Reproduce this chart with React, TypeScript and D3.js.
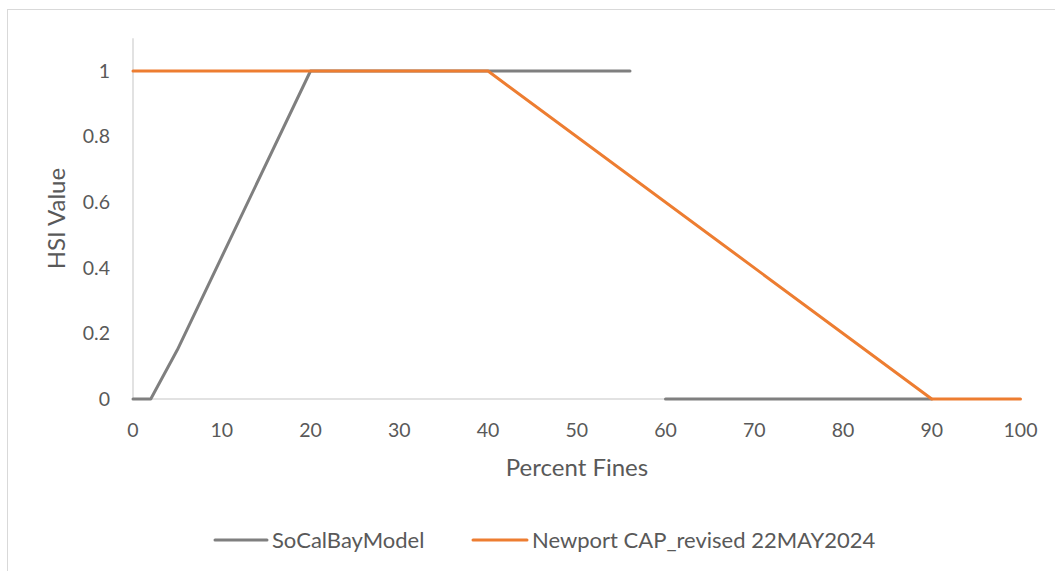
import React from "react";
import * as d3 from "d3";

const socalX = [0, 2, 5, 20, 56];
const socalY = [0, 0, 0.15, 1, 1];
const socalX2 = [60, 90];
const socalY2 = [0, 0];
const newportX = [0, 40, 90, 100];
const newportY = [1, 1, 0, 0];
const xTicks = [0, 10, 20, 30, 40, 50, 60, 70, 80, 90, 100];
const yTicks = [0, 0.2, 0.4, 0.6, 0.8, 1];
const seriesNames = ["SoCalBayModel", "Newport CAP_revised 22MAY2024"];
const seriesColors = ["#7f7f7f", "#ed7d31"];

const FONT = "Lato, 'Open Sans', sans-serif";
const TXT = "#595959";

export default function App() {
  const x = d3.scaleLinear().domain([0, 100]).range([133, 1020.5]);
  const y = d3.scaleLinear().domain([0, 1.1]).range([399, 38.2]);
  const line = d3
    .line<[number, number]>()
    .x((d) => x(d[0]))
    .y((d) => y(d[1]));
  const s1 = socalX.map((v, i) => [v, socalY[i]] as [number, number]);
  const s2 = socalX2.map((v, i) => [v, socalY2[i]] as [number, number]);
  const s3 = newportX.map((v, i) => [v, newportY[i]] as [number, number]);

  const legend = [
    { x1: 215, x2: 267, tx: 272 },
    { x1: 473, x2: 527, tx: 532 },
  ];

  return (
    <svg
      width={1055}
      height={571}
      style={{ position: "absolute", left: 0, top: 0, background: "#fff" }}
    >
      <rect x={7.5} y={9.5} width={1100} height={600} fill="#fff" stroke="#d9d9d9" strokeWidth={1} />
      {/* axes */}
      <line x1={x(0)} x2={x(0)} y1={y(1.1)} y2={y(0)} stroke="#d9d9d9" strokeWidth={1.5} />
      <line x1={x(0)} x2={x(100)} y1={y(0)} y2={y(0)} stroke="#d9d9d9" strokeWidth={1.5} />
      {yTicks.map((t) => (
        <text key={"y" + t} x={110} y={y(t)} dy="0.35em" textAnchor="end" fontFamily={FONT} fontSize={19.5} fill={TXT}>
          {t === 0 || t === 1 ? String(t) : t.toFixed(1)}
        </text>
      ))}
      {xTicks.map((t) => (
        <text key={"x" + t} x={x(t)} y={430} dy="0.35em" textAnchor="middle" fontFamily={FONT} fontSize={19.5} fill={TXT}>
          {t}
        </text>
      ))}
      <text x={577} y={468} dy="0.35em" textAnchor="middle" fontFamily={FONT} fontSize={24} fill={TXT}>
        Percent Fines
      </text>
      <text
        transform={`translate(57,${(y(0) + y(1.1)) / 2}) rotate(-90)`}
        dy="0.35em"
        textAnchor="middle"
        fontFamily={FONT}
        fontSize={24}
        fill={TXT}
      >
        HSI Value
      </text>
      {/* series */}
      <path d={line(s1) || ""} fill="none" stroke={seriesColors[0]} strokeWidth={3} strokeLinejoin="round" strokeLinecap="round" />
      <path d={line(s2) || ""} fill="none" stroke={seriesColors[0]} strokeWidth={3} strokeLinejoin="round" strokeLinecap="round" />
      <path d={line(s3) || ""} fill="none" stroke={seriesColors[1]} strokeWidth={3} strokeLinejoin="round" strokeLinecap="round" />
      {/* legend */}
      {legend.map((l, i) => (
        <g key={"lg" + i}>
          <line x1={l.x1} x2={l.x2} y1={540} y2={540} stroke={seriesColors[i]} strokeWidth={3} strokeLinecap="round" />
          <text x={l.tx} y={540} dy="0.35em" fontFamily={FONT} fontSize={22} fill={TXT}>
            {seriesNames[i]}
          </text>
        </g>
      ))}
    </svg>
  );
}
